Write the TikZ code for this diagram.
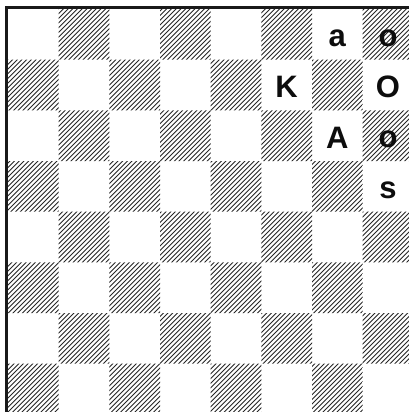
\documentclass[tikz,border=0pt]{standalone}
\usepackage{fontspec}
\setmainfont{Liberation Sans}
\begin{document}
\begin{tikzpicture}[x=1pt,y=-1pt,
  piece/.style={font=\bfseries\fontsize{31}{31}\selectfont, text=black!95, anchor=base, inner sep=0pt},
  hatch/.style={line width=0.9pt, draw=black!85},
  frame/.style={line width=3pt, draw=black!90, line join=miter}]
\useasboundingbox (0,0) rectangle (409,412);
\def\sq{50.67}
\def\ox{8}
\def\oy{9}
\begin{scope}
  \clip (0,0) rectangle (409,412);
  \clip \foreach \r in {0,...,7} {\foreach \k [evaluate=\k as \c using {\k+mod(\r+1,2)}] in {0,2,4,6} {(\ox+\c*\sq, \oy+\r*\sq) rectangle ++(\sq,\sq)}};
  \foreach \i in {-90,...,90} \draw[hatch] (\i*4.7, 420) -- ++(420,-420);
\end{scope}
\draw[frame] (6.5,412) -- (6.5,8) -- (409,8);
\node[piece] (pa) at (\ox+6.5*\sq, \oy+0.5*\sq+12) {a};
\node[piece] (po1) at (\ox+7.5*\sq, \oy+0.5*\sq+12) {o};
\node[piece] (pK) at (\ox+5.5*\sq, \oy+1.5*\sq+12.5) {K};
\node[piece] (pO) at (\ox+7.5*\sq, \oy+1.5*\sq+12.5) {O};
\node[piece] (pA) at (\ox+6.5*\sq, \oy+2.5*\sq+12.5) {A};
\node[piece] (po2) at (\ox+7.5*\sq, \oy+2.5*\sq+12) {o};
\node[piece] (ps) at (\ox+7.5*\sq, \oy+3.5*\sq+12.5) {s};
\end{tikzpicture}
\end{document}
